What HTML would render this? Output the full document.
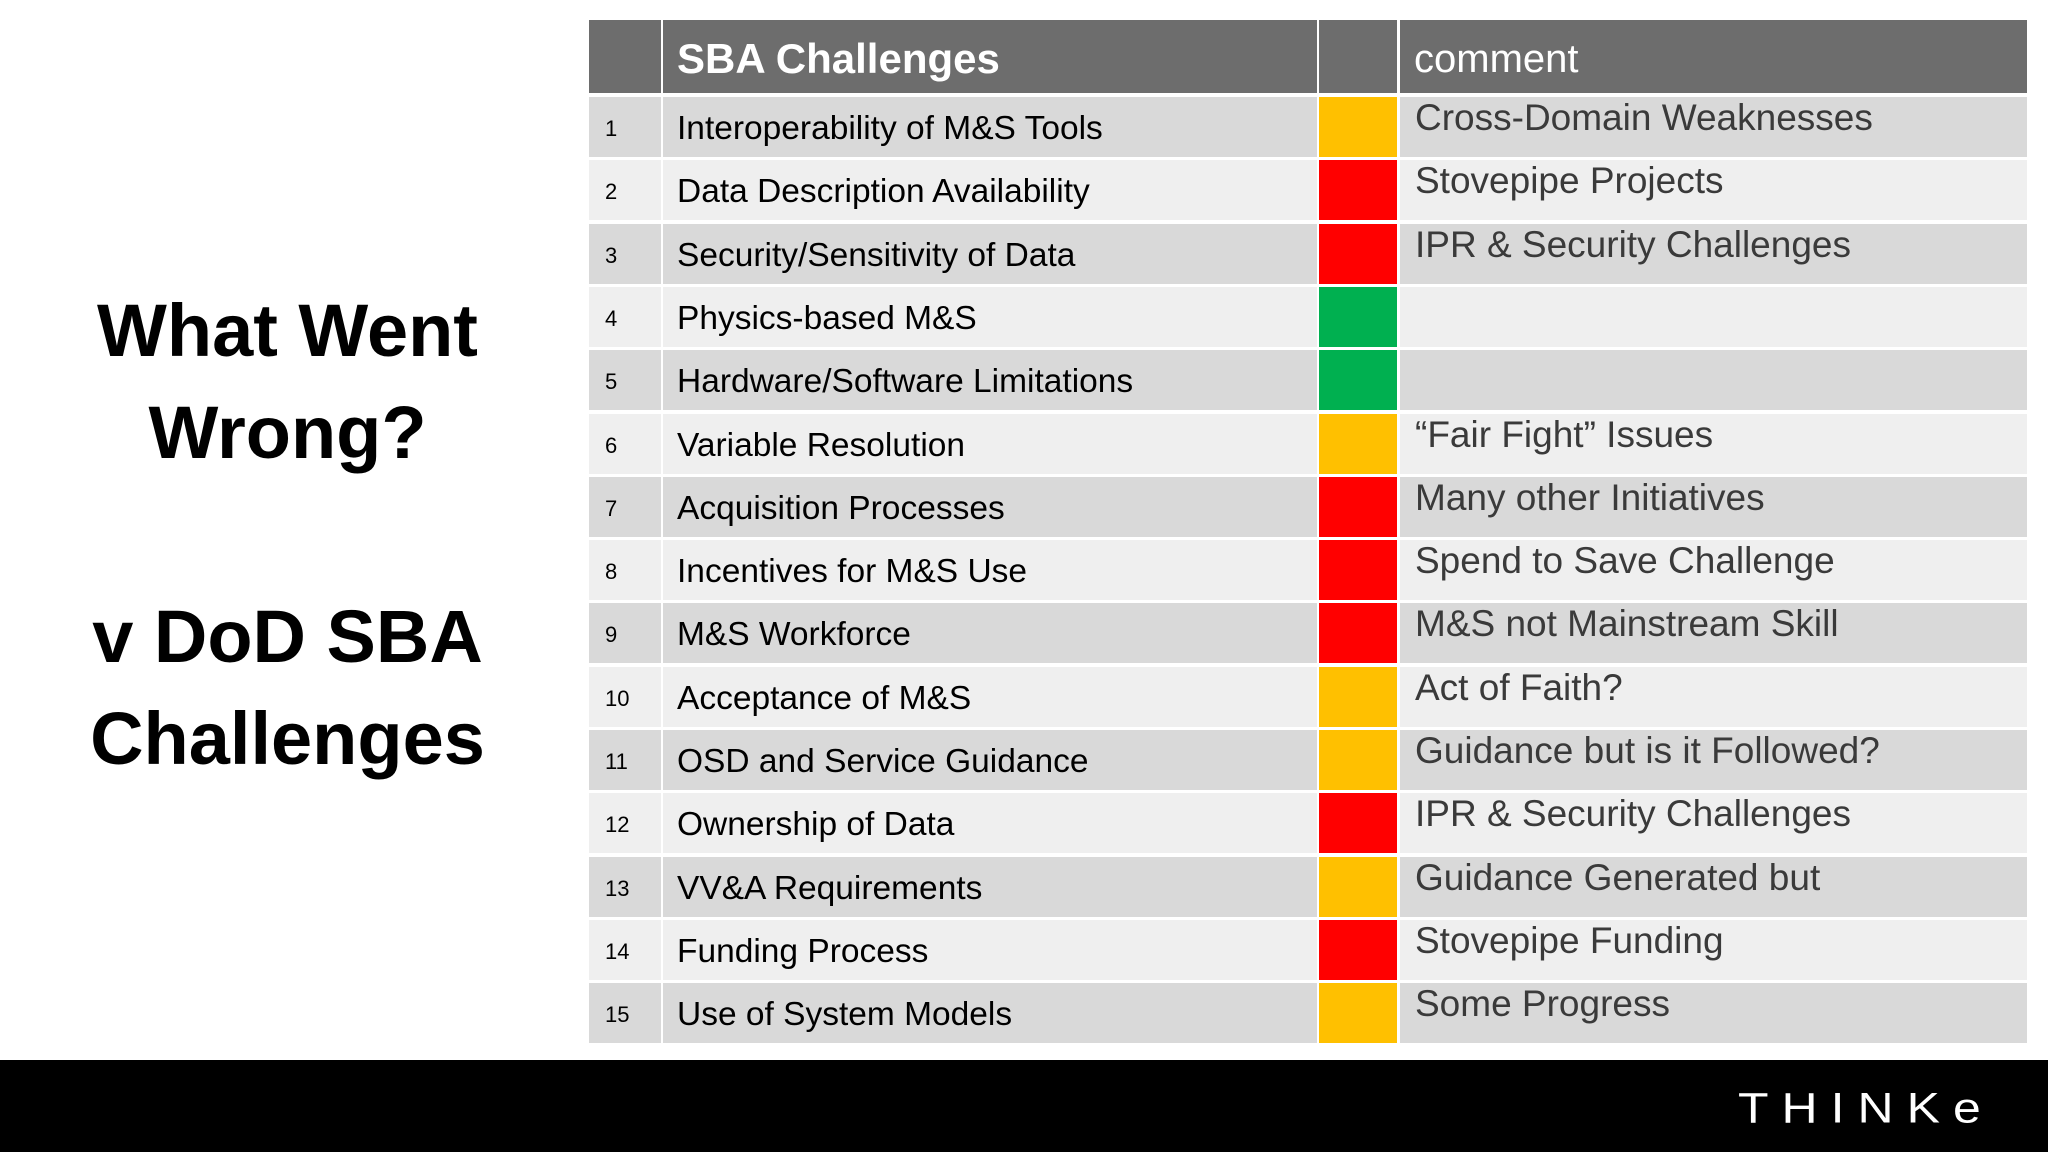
<!DOCTYPE html>
<html><head><meta charset="utf-8"><style>
body{margin:0;width:2048px;height:1152px;background:#fff;position:relative;overflow:hidden;font-family:"Liberation Sans",sans-serif}
.c{position:absolute;box-sizing:border-box;white-space:nowrap;overflow:hidden}
#title{position:absolute;left:40px;width:495px;text-align:center;font-weight:bold;font-size:74px;line-height:102px;color:#000}
</style></head><body>
<div id="title" style="top:280px">What Went<br>Wrong?<br><br>v DoD SBA<br>Challenges</div>
<div id="tbl"></div>
<div class="c" style="left:0;top:1060px;width:2048px;height:92px;background:#000"></div>
<div class="c" style="left:1738px;top:1076px;width:300px;height:64px;color:#fff;font-size:50px;letter-spacing:13px;line-height:64px;transform:scaleY(0.85)">THINKe</div>
<script>
const challenges=["Interoperability of M&S Tools","Data Description Availability","Security/Sensitivity of Data","Physics-based M&S","Hardware/Software Limitations","Variable Resolution","Acquisition Processes","Incentives for M&S Use","M&S Workforce","Acceptance of M&S","OSD and Service Guidance","Ownership of Data","VV&A Requirements","Funding Process","Use of System Models"];
const statuses=["amber","red","red","green","green","amber","red","red","red","amber","amber","red","amber","red","amber"];
const comments=["Cross-Domain Weaknesses","Stovepipe Projects","IPR & Security Challenges","","","\u201cFair Fight\u201d Issues","Many other Initiatives","Spend to Save Challenge","M&S not Mainstream Skill","Act of Faith?","Guidance but is it Followed?","IPR & Security Challenges","Guidance Generated but","Stovepipe Funding","Some Progress"];
const colorMap={amber:"#ffc000",red:"#ff0000",green:"#00b050"};
const tbl=document.getElementById('tbl');
const cols=[[589,72],[663,654],[1319,78],[1400,627]];
function cell(x,y,w,h,bg,txt,css){const d=document.createElement('div');d.className='c';d.style.cssText=`left:${x}px;top:${y}px;width:${w}px;height:${h}px;background:${bg};${css||''}`;d.textContent=txt;tbl.appendChild(d);return d;}
const H=cell(cols[0][0],20,cols[0][1],73,'#6d6d6d','');


const H1=cell(cols[1][0],20,cols[1][1],73,'#6d6d6d','SBA Challenges','color:#fff;font-weight:bold;font-size:42px;line-height:78px;padding-left:14px');


const H2=cell(cols[2][0],20,cols[2][1],73,'#6d6d6d','');


const H3=cell(cols[3][0],20,cols[3][1],73,'#6d6d6d','comment','color:#fff;font-size:40px;line-height:78px;padding-left:14px');


const top0=97,pitch=63.3,rh=60;
challenges.forEach((t,i)=>{
 const y=Math.round(top0+i*pitch);const bg=i%2===0?'#d9d9d9':'#efefef';
 const a=cell(cols[0][0],y,cols[0][1],rh,bg,String(i+1),'font-size:22px;line-height:64px;padding-left:16px;color:#000');
 
 
 const b=cell(cols[1][0],y,cols[1][1],rh,bg,t,'font-size:33.5px;line-height:64px;padding-left:14px;color:#000');
 
 
 const c=cell(cols[2][0],y,cols[2][1],rh,colorMap[statuses[i]],'');
 
 
 const d=cell(cols[3][0],y,cols[3][1],rh,bg,comments[i],'font-size:37px;line-height:42px;padding-left:15px;color:#3a3a3a');
 
 
});
</script>
</body></html>
